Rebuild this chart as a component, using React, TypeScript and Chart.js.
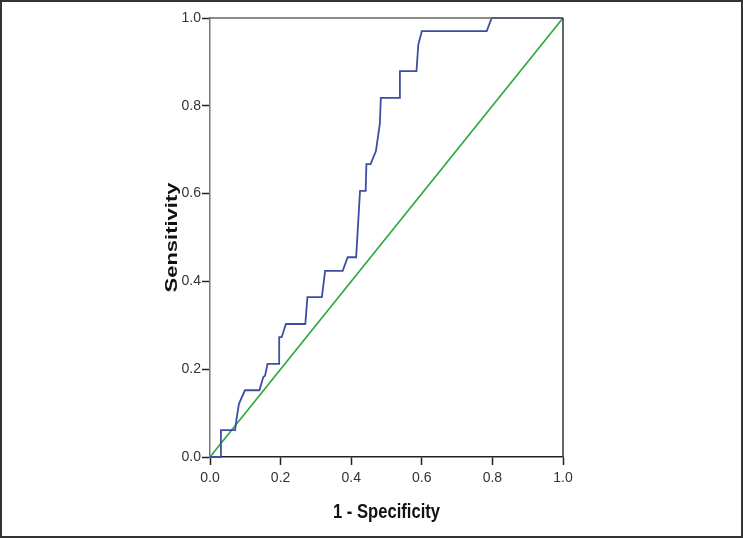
import React, { useEffect, useRef } from "react";
import { Chart, registerables } from "chart.js";

Chart.register(...registerables);

const rocX = [0, 0.031, 0.031, 0.071, 0.076, 0.082, 0.099, 0.14, 0.151, 0.156, 0.163, 0.196, 0.196, 0.203, 0.215, 0.27, 0.276, 0.317, 0.326, 0.376, 0.39, 0.414, 0.425, 0.441, 0.443, 0.455, 0.47, 0.481, 0.484, 0.538, 0.538, 0.585, 0.59, 0.6, 0.784, 0.798, 1];
const rocY = [0, 0, 0.061, 0.061, 0.091, 0.121, 0.152, 0.152, 0.182, 0.185, 0.212, 0.212, 0.273, 0.273, 0.303, 0.303, 0.364, 0.364, 0.424, 0.424, 0.455, 0.455, 0.606, 0.606, 0.667, 0.667, 0.697, 0.758, 0.818, 0.818, 0.879, 0.879, 0.939, 0.97, 0.97, 1, 1];
const refX = [0, 1];
const refY = [0, 1];
const xTitle = "1 - Specificity";
const yTitle = "Sensitivity";

const framePlugin = {
  id: "frame",
  afterDraw(chart: any) {
    const { ctx, chartArea } = chart;
    const { left, right, top, bottom } = chartArea;
    ctx.save();
    // top and right plot border
    ctx.lineWidth = 1.5;
    ctx.strokeStyle = "#666";
    ctx.beginPath();
    ctx.moveTo(left, top);
    ctx.lineTo(right, top);
    ctx.stroke();
    ctx.strokeStyle = "#333";
    ctx.beginPath();
    ctx.moveTo(right, top);
    ctx.lineTo(right, bottom);
    ctx.stroke();
    // outer image border
    ctx.lineWidth = 2;
    ctx.strokeStyle = "#333";
    ctx.strokeRect(1, 1, chart.width - 2, chart.height - 2);
    // titles
    ctx.fillStyle = "#111";
    ctx.font = "bold 21px 'Liberation Sans', Arial, sans-serif";
    ctx.textAlign = "center";
    ctx.textBaseline = "middle";
    const wx = ctx.measureText(xTitle).width;
    ctx.save();
    ctx.translate((left + right) / 2, 512);
    ctx.scale(107 / wx, 1);
    ctx.fillText(xTitle, 0, 0);
    ctx.restore();
    const wy = ctx.measureText(yTitle).width;
    ctx.save();
    ctx.translate(173, (top + bottom) / 2);
    ctx.scale(0.75, 1);
    ctx.rotate(-Math.PI / 2);
    ctx.scale(110 / wy, 1);
    ctx.fillText(yTitle, 0, 0);
    ctx.restore();
    ctx.restore();
  },
};

export default function App() {
  const ref = useRef<HTMLCanvasElement>(null);
  useEffect(() => {
    const tickFont = { family: "'Liberation Sans', Arial, sans-serif", size: 14 };
    const chart = new Chart(ref.current!, {
      type: "line",
      data: {
        datasets: [
          {
            data: rocX.map((x, i) => ({ x, y: rocY[i] })),
            borderColor: "#3E4FA3",
            borderWidth: 1.8,
            pointRadius: 0,
            tension: 0,
            clip: false as any,
          },
          {
            data: refX.map((x, i) => ({ x, y: refY[i] })),
            borderColor: "#2EAA3C",
            borderWidth: 1.7,
            pointRadius: 0,
            clip: false as any,
          },
        ],
      },
      options: {
        responsive: false,
        animation: false,
        layout: { padding: { left: 160, top: 18, right: 180, bottom: 0 } },
        plugins: { legend: { display: false }, tooltip: { enabled: false } },
        scales: {
          x: {
            type: "linear",
            min: 0,
            max: 1,
            afterFit(scale: any) {
              scale.height = 81;
            },
            grid: { drawOnChartArea: false, drawTicks: true, tickLength: 8, tickColor: "#222", tickWidth: 1.5 },
            border: { color: "#222", width: 1.5 },
            ticks: { stepSize: 0.2, color: "#333", font: tickFont, padding: 5, maxRotation: 0, callback: (v: any) => Number(v).toFixed(1) },
          },
          y: {
            type: "linear",
            min: 0,
            max: 1,
            afterFit(scale: any) {
              scale.width = 50;
            },
            grid: { drawOnChartArea: false, drawTicks: true, tickLength: 8, tickColor: "#222", tickWidth: 1.5 },
            border: { color: "#777", width: 1.5 },
            ticks: { stepSize: 0.2, color: "#333", font: tickFont, padding: 1, callback: (v: any) => Number(v).toFixed(1) },
          },
        },
      },
      plugins: [framePlugin],
    } as any);
    return () => chart.destroy();
  }, []);
  return (
    <div style={{ position: "absolute", left: 0, top: 0, width: 743, height: 538, background: "#fff" }}>
      <canvas ref={ref} width={743} height={538} />
    </div>
  );
}
